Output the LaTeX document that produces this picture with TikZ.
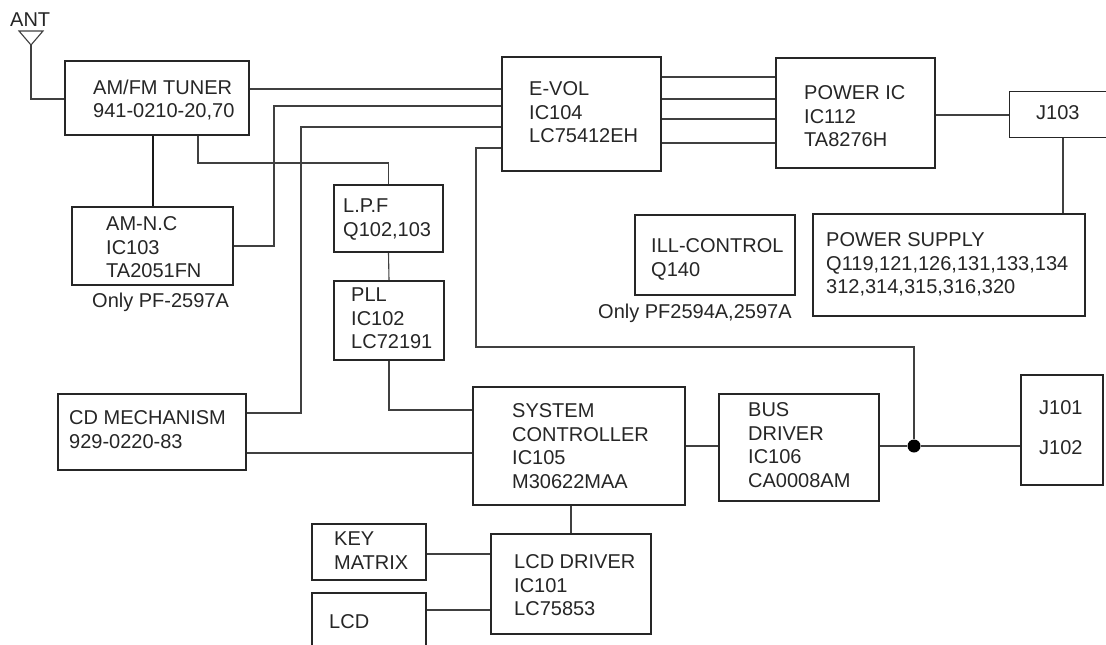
\documentclass[tikz,border=0pt]{standalone}
\usepackage{fontspec}
\setmainfont{Liberation Sans}
\usepackage{tikz}

\begin{document}
\begin{tikzpicture}[
    x=1pt, y=-1pt,
    box/.style={
        rectangle, draw=black!85, line width=2pt,
        anchor=north west, inner sep=0pt
    },
    thinbox/.style={box, line width=1.2pt},
    txt/.style={
        anchor=north west, inner sep=0pt, align=left,
        text=black!85, font=\fontsize{20}{23.5}\selectfont
    },
    wire/.style={draw=black!75, line width=1.1pt},
    heavy/.style={draw=black!90, line width=2pt},
    tapdot/.style={circle, fill=black, inner sep=0pt, minimum size=13pt}
]

    \clip (0,0) rectangle (1106,645);
    \fill[white] (0,0) rectangle (1106,645);

    % Tuner side
    \node [box, minimum width=184, minimum height=74] (tuner) at (64,60) {};
    \node [txt] (tunerTxt) at (93,79.7) {AM/FM TUNER\\941-0210-20,70};
    \node [box, minimum width=161, minimum height=78] (amnc) at (71,206) {};
    \node [txt] (amncTxt) at (106,216.7) {AM-N.C\\IC103\\TA2051FN};
    \node [txt] (onlyA) at (92,292.7) {Only PF-2597A};
    \node [txt] (antTxt) at (10,12.7) {ANT};

    % Audio path
    \node [box, minimum width=159, minimum height=114] (evol) at (501,56) {};
    \node [txt] (evolTxt) at (529,81.7) {E-VOL\\IC104\\LC75412EH};
    \node [box, minimum width=159, minimum height=110] (pwr) at (775,57) {};
    \node [txt] (pwrTxt) at (804,85.7) {POWER IC\\IC112\\TA8276H};
    \node [thinbox, minimum width=120, minimum height=46] (j103) at (1009,91) {};
    \node [txt] (j103Txt) at (1036,105.7) {J103};

    % Supply and illumination
    \node [box, minimum width=272, minimum height=102] (psu) at (812,213) {};
    \node [txt] (psuTxt) at (826,232.7) {POWER SUPPLY\\Q119,121,126,131,133,134\\312,314,315,316,320};
    \node [box, minimum width=160, minimum height=80] (ill) at (634,214) {};
    \node [txt] (illTxt) at (651,238.7) {ILL-CONTROL\\Q140};
    \node [txt] (onlyB) at (598,303.7) {Only PF2594A,2597A};

    % PLL chain
    \node [box, minimum width=109, minimum height=67] (lpf) at (333,184) {};
    \node [txt] (lpfTxt) at (343,198.7) {L.P.F\\Q102,103};
    \node [box, minimum width=110, minimum height=79] (pll) at (333,280) {};
    \node [txt] (pllTxt) at (351,287.7) {PLL\\IC102\\LC72191};

    % Control section
    \node [box, minimum width=188, minimum height=76] (cdm) at (57,393) {};
    \node [txt] (cdmTxt) at (69,410.7) {CD MECHANISM\\929-0220-83};
    \node [box, minimum width=212, minimum height=118] (sys) at (472,386) {};
    \node [txt] (sysTxt) at (512,403.7) {SYSTEM\\CONTROLLER\\IC105\\M30622MAA};
    \node [box, minimum width=160, minimum height=107] (bus) at (718,393) {};
    \node [txt] (busTxt) at (748,402.7) {BUS\\DRIVER\\IC106\\CA0008AM};
    \node [box, minimum width=82, minimum height=110] (j101) at (1020,374) {};
    \node [txt] (j101Txt) at (1039,400.7) {J101};
    \node [txt] (j102Txt) at (1039,440.7) {J102};
    \node [tapdot] (tap) at (914,446) {};

    % Display section
    \node [box, minimum width=114, minimum height=56] (key) at (311,523) {};
    \node [txt] (keyTxt) at (334,531.7) {KEY\\MATRIX};
    \node [box, minimum width=160, minimum height=100] (lcdd) at (490,533) {};
    \node [txt] (lcddTxt) at (514,554.7) {LCD DRIVER\\IC101\\LC75853};
    \node [box, minimum width=114, minimum height=80] (lcd) at (311,592) {};
    \node [txt] (lcdTxt) at (329,614.7) {LCD};

    % Antenna
    \coordinate (antTip) at (31,45);
    \draw [wire] (19,31) -- (43,31) -- (antTip) -- cycle;
    \draw [wire] (antTip) |- (tuner.west |- 0,99);

    % Connections
    \draw [wire] (tuner.east |- 0,89) -- (evol.west |- 0,89);
    \draw [wire] (amnc.east |- 0,246) -| (274,106) -- (evol.west |- 0,106);
    \draw [wire] (cdm.east |- 0,413) -| (301,127) -- (evol.west |- 0,127);
    \draw [wire] (evol.west |- 0,148) -| (476,347) -| (tap);
    \draw [heavy] (tuner.south -| amnc.north) -- (amnc.north);
    \draw [wire] (tuner.south -| 198,0) |- (lpf.north |- 0,163) -- (lpf.north);
    \draw [wire] (lpf.south) -- (pll.north);
    \draw [wire] (pll.south) |- (sys.west |- 0,410);
    \foreach \y in {77,99,119,143}
        \draw [wire] (evol.east |- 0,\y) -- (pwr.west |- 0,\y);
    \draw [wire] (pwr.east |- 0,115) -- (j103.west |- 0,115);
    \draw [wire] (j103.south -| 1063,0) -- (psu.north -| 1063,0);
    \draw [wire] (cdm.east |- 0,453) -- (sys.west |- 0,453);
    \draw [wire] (sys.east |- 0,446) -- (bus.west |- 0,446);
    \draw [wire] (bus.east |- tap) -- (tap) -- (j101.west |- tap);
    \draw [wire] (lcdd.north |- sys.south) -- (lcdd.north);
    \draw [wire] (key.east |- 0,554) -- (lcdd.west |- 0,554);
    \draw [wire] (lcd.east |- 0,610) -- (lcdd.west |- 0,610);

\end{tikzpicture}
\end{document}
